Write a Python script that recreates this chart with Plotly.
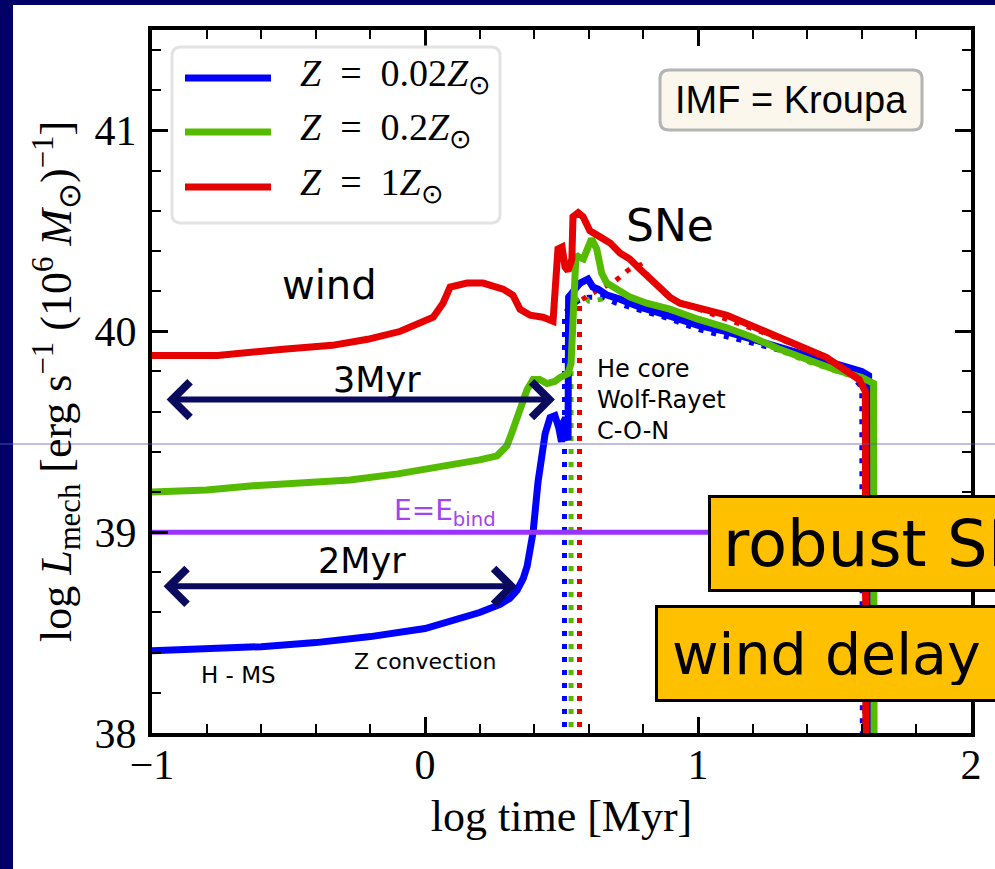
import plotly.graph_objects as go

# ---------------- data ----------------
blue_x = [-1.0, -0.8, -0.6, -0.4, -0.2, 0.0, 0.1, 0.2, 0.275, 0.31, 0.337, 0.36, 0.374, 0.385, 0.396,
          0.414, 0.44, 0.458, 0.476, 0.49, 0.50, 0.508, 0.515, 0.52, 0.524, 0.526, 0.545, 0.557, 0.568,
          0.597, 0.615, 0.634, 0.667, 0.714, 0.788, 0.886, 1.0, 1.1, 1.2, 1.3, 1.4, 1.5, 1.6, 1.625, 1.626]
blue_y = [38.41, 38.42, 38.43, 38.45, 38.48, 38.52, 38.56, 38.60, 38.64, 38.67, 38.71, 38.77, 38.83, 38.90,
          39.00, 39.25, 39.49, 39.57, 39.58, 39.52, 39.45, 39.55, 39.57, 39.47, 39.46, 40.17, 40.20, 40.22,
          40.24, 40.26, 40.22, 40.21, 40.18, 40.16, 40.12, 40.08, 40.03, 40.00, 39.96, 39.92, 39.88, 39.84,
          39.80, 39.78, 37.9]

green_x = [-1.0, -0.8, -0.64, -0.4, -0.275, -0.1, 0.092, 0.2, 0.264, 0.30, 0.322, 0.348, 0.374, 0.396,
           0.42, 0.447, 0.475, 0.495, 0.524, 0.535, 0.540, 0.546, 0.553, 0.562, 0.580, 0.598, 0.610, 0.629,
           0.647, 0.666, 0.702, 0.751, 0.812, 0.897, 1.0, 1.1, 1.2, 1.3, 1.4, 1.5, 1.6, 1.643, 1.645]
green_y = [39.20, 39.21, 39.23, 39.25, 39.26, 39.29, 39.33, 39.36, 39.38, 39.43, 39.51, 39.61, 39.71, 39.76,
           39.76, 39.74, 39.75, 39.77, 39.79, 39.84, 40.05, 40.30, 40.38, 40.37, 40.36, 40.42, 40.46, 40.41,
           40.29, 40.24, 40.21, 40.17, 40.14, 40.11, 40.06, 40.02, 39.97, 39.91, 39.86, 39.81, 39.77, 39.74,
           37.9]

red_x = [-1.0, -0.76, -0.52, -0.34, -0.21, -0.09, 0.03, 0.066, 0.092, 0.154, 0.213, 0.286, 0.322, 0.348,
         0.385, 0.432, 0.469, 0.476, 0.487, 0.502, 0.513, 0.524, 0.538, 0.542, 0.561, 0.579, 0.604, 0.641,
         0.678, 0.714, 0.75, 0.787, 0.824, 0.897, 0.934, 1.0, 1.106, 1.227, 1.348, 1.47, 1.59, 1.613, 1.615]
red_y = [39.88, 39.88, 39.91, 39.93, 39.96, 40.00, 40.07, 40.14, 40.22, 40.24, 40.24, 40.21, 40.18, 40.11,
         40.08, 40.07, 40.05, 40.21, 40.41, 40.42, 40.32, 40.30, 40.36, 40.57, 40.59, 40.57, 40.50, 40.47,
         40.44, 40.39, 40.36, 40.31, 40.26, 40.17, 40.14, 40.12, 40.08, 40.01, 39.94, 39.87, 39.76, 39.70,
         37.9]

# SN-only contributions (dotted)
blue_dot_x = [0.511, 0.511, 0.53, 0.56, 0.60, 0.65, 0.70, 0.8, 0.9, 1.0, 1.2, 1.4, 1.55, 1.6, 1.602]
blue_dot_y = [37.9, 40.09, 40.12, 40.15, 40.17, 40.17, 40.14, 40.10, 40.06, 40.01, 39.94, 39.87, 39.80, 39.72, 37.9]
green_dot_x = [0.535, 0.535, 0.56, 0.587, 0.60, 0.65, 0.70, 0.8, 0.9, 1.0, 1.2, 1.4, 1.6, 1.64, 1.641]
green_dot_y = [37.9, 40.15, 40.16, 40.17, 40.15, 40.16, 40.17, 40.13, 40.09, 40.05, 39.96, 39.85, 39.76, 39.73, 37.9]
red_dot_x = [0.566, 0.566, 0.60, 0.65, 0.696, 0.74, 0.762, 0.788, 0.82, 0.9, 1.0, 1.227, 1.47, 1.59, 1.61, 1.611]
red_dot_y = [37.9, 40.15, 40.18, 40.22, 40.25, 40.30, 40.32, 40.33, 40.27, 40.16, 40.11, 40.00, 39.87, 39.76, 39.70, 37.9]

ebind_x = [-1.0, 2.0]
ebind_y = [39.0, 39.0]

series_names = ["<i>Z</i>  =  0.02<i>Z</i><sub>⊙</sub>",
                "<i>Z</i>  =  0.2<i>Z</i><sub>⊙</sub>",
                "<i>Z</i>  =  1<i>Z</i><sub>⊙</sub>"]
x_ticks = [-1, 0, 1, 2]
y_ticks = [38, 39, 40, 41]

# ---------------- styling / layout ----------------
BLUE, GREEN, RED = "#0000ff", "#55bb00", "#e60000"
PURPLE = "#9933ff"
NAVY = "#0a0a5e"
SERIF = "Liberation Serif"
HAND = "DejaVu Sans"

W, H = 995, 869
ML, MR, MT, MB = 152, 24, 30, 136
PW, PH = W - ML - MR, H - MT - MB


def xp(px):
    return (px - ML) / PW


def yp(py):
    return (H - MB - py) / PH


def rrect(x0, y0, x1, y1, r):
    X, Y = xp, yp
    return (f"M{X(x0+r)},{Y(y0)} L{X(x1-r)},{Y(y0)} Q{X(x1)},{Y(y0)} {X(x1)},{Y(y0+r)} "
            f"L{X(x1)},{Y(y1-r)} Q{X(x1)},{Y(y1)} {X(x1-r)},{Y(y1)} L{X(x0+r)},{Y(y1)} "
            f"Q{X(x0)},{Y(y1)} {X(x0)},{Y(y1-r)} L{X(x0)},{Y(y0+r)} Q{X(x0)},{Y(y0)} {X(x0+r)},{Y(y0)} Z")


fig = go.Figure()

dot = "5px,8px"
for xs, ys, c in [(blue_dot_x, blue_dot_y, BLUE), (green_dot_x, green_dot_y, GREEN), (red_dot_x, red_dot_y, RED)]:
    fig.add_trace(go.Scatter(x=xs, y=ys, mode="lines", line=dict(color=c, width=5, dash=dot),
                             showlegend=False, hoverinfo="skip"))

for xs, ys, c, nm in [(blue_x, blue_y, BLUE, series_names[0]), (green_x, green_y, GREEN, series_names[1]),
                      (red_x, red_y, RED, series_names[2])]:
    fig.add_trace(go.Scatter(x=xs, y=ys, mode="lines", name=nm, line=dict(color=c, width=7),
                             showlegend=False))

fig.add_trace(go.Scatter(x=ebind_x, y=ebind_y, mode="lines", line=dict(color=PURPLE, width=5),
                         showlegend=False, hoverinfo="skip"))

shapes = []
# navy slide background frame -> white panel
shapes.append(dict(type="rect", xref="paper", yref="paper", x0=xp(13), x1=xp(1100), y0=yp(1000), y1=yp(5),
                   fillcolor="white", line=dict(width=0), layer="below"))
# legend box
shapes.append(dict(type="path", xref="paper", yref="paper", path=rrect(172, 47, 500, 223, 9),
                   fillcolor="white", line=dict(color="#e3e3e3", width=3), layer="above"))
for py, c in [(78, BLUE), (132, GREEN), (187, RED)]:
    shapes.append(dict(type="line", xref="paper", yref="paper", x0=xp(185), x1=xp(271), y0=yp(py), y1=yp(py),
                       line=dict(color=c, width=7), layer="above"))
# IMF box
shapes.append(dict(type="path", xref="paper", yref="paper", path=rrect(660, 70, 922, 130, 9),
                   fillcolor="#fbf7ec", line=dict(color="#b4b4b4", width=3), layer="above"))
# thin slide artifact line
shapes.append(dict(type="line", xref="paper", yref="paper", x0=xp(-20), x1=xp(1100), y0=yp(444), y1=yp(444),
                   line=dict(color="rgba(90,90,190,0.8)", width=1), layer="above"))

ann = []
for py, nm in zip([76, 130, 185], series_names):
    ann.append(dict(xref="paper", yref="paper", x=xp(298), y=yp(py), xanchor="left", yanchor="middle",
                    text=nm, showarrow=False, font=dict(family=SERIF, size=38, color="black")))
ann.append(dict(xref="paper", yref="paper", x=xp(791), y=yp(100), xanchor="center", yanchor="middle",
                text="IMF = Kroupa", showarrow=False,
                font=dict(family="Liberation Sans", size=38, color="black")))


def txt(px, py, s, size, color="black", anchor="center"):
    ann.append(dict(xref="paper", yref="paper", x=xp(px), y=yp(py), text=s, showarrow=False,
                    xanchor=anchor, yanchor="middle", align="left",
                    font=dict(family=HAND, size=size, color=color)))


txt(329, 285, "wind", 40)
txt(670, 225, "SNe", 44)
txt(377, 380, "3Myr", 35)
txt(362, 561, "2Myr", 35)
txt(595, 400, "He core<br>Wolf-Rayet<br>C-O-N", 24, anchor="left")
txt(238, 675, "H - MS", 23)
txt(425, 661, "Z convection", 22)
txt(445, 512, "E=E<sub>bind</sub>", 28, color="#a045f0")

# double arrows (data coordinates)
arrow_3myr = dict(x0=-0.952, x1=0.476, y=39.66)
arrow_2myr = dict(x0=-0.963, x1=0.337, y=38.73)
for a in [arrow_3myr, arrow_2myr]:
    ann.append(dict(xref="x", yref="y", axref="x", ayref="y", x=a["x1"], y=a["y"], ax=a["x0"], ay=a["y"],
                    text="", showarrow=True, arrowside="end+start", arrowhead=4, startarrowhead=4,
                    arrowsize=1.15, startarrowsize=1.15, arrowwidth=6, arrowcolor=NAVY))

# orange slide boxes
for px, py, s, pad, fs in [(708, 495, "robust SNe", 12, 64), (655, 605, "wind delay", 14, 57)]:
    ann.append(dict(xref="paper", yref="paper", x=xp(px), y=yp(py), xanchor="left", yanchor="top",
                    text=s, showarrow=False, align="left", width=420, height=97 - 2 * (3 + pad),
                    bgcolor="#ffc000", bordercolor="black", borderwidth=3, borderpad=pad,
                    font=dict(family=HAND, size=fs, color="black")))

axis_common = dict(showline=True, linecolor="black", linewidth=4, mirror="ticks", ticks="inside",
                   ticklen=16, tickwidth=2.5, tickcolor="black", showgrid=False, zeroline=False)

fig.update_layout(
    width=W, height=H, autosize=False,
    margin=dict(l=ML, r=MR, t=MT, b=MB),
    paper_bgcolor="#000066", plot_bgcolor="white",
    showlegend=False,
    shapes=shapes, annotations=ann,
    xaxis=dict(range=[-1, 2], tickvals=x_ticks, ticklabelstandoff=-8,
               tickfont=dict(family=SERIF, size=42, color="black"),
               minor=dict(dtick=0.2, ticks="inside", ticklen=9, tickwidth=2, tickcolor="black", showgrid=False),
               title=dict(text="log time [Myr]", font=dict(family=SERIF, size=44, color="black"), standoff=14),
               **axis_common),
    yaxis=dict(range=[38, 41.5], tickvals=y_ticks, ticklabelstandoff=3,
               tickfont=dict(family=SERIF, size=42, color="black"),
               minor=dict(dtick=0.2, ticks="inside", ticklen=9, tickwidth=2, tickcolor="black", showgrid=False),
               title=dict(text="log <i>L</i><sub>mech</sub> [erg s<sup>−1</sup> (10<sup>6</sup> <i>M</i><sub>⊙</sub>)<sup>−1</sup>]",
                          font=dict(family=SERIF, size=44, color="black"), standoff=10),
               **axis_common),
)

fig.write_html("out.html")
